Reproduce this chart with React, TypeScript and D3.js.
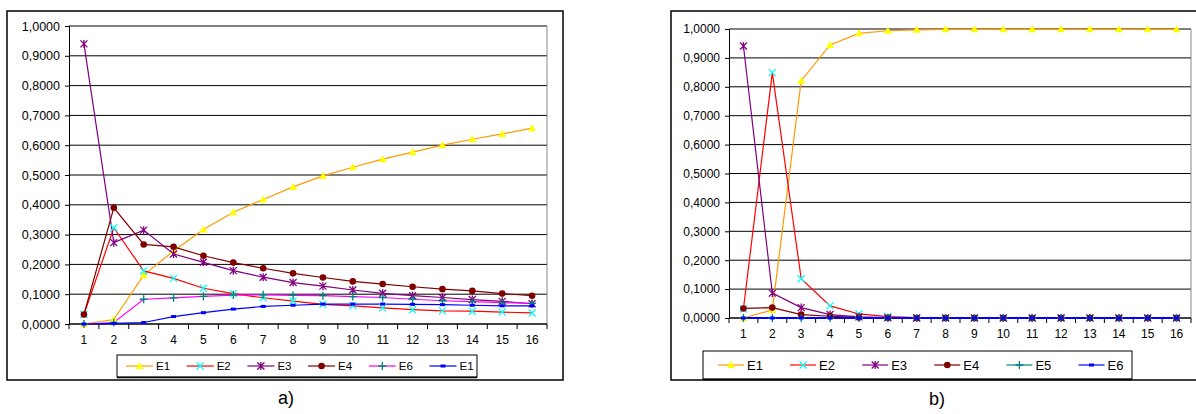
import React, { useEffect, useRef } from "react";
import * as d3 from "d3";

// x categories and y ticks shared by both panels
const categories = ["1", "2", "3", "4", "5", "6", "7", "8", "9", "10", "11", "12", "13", "14", "15", "16"];
const yTicks = [0, 0.1, 0.2, 0.3, 0.4, 0.5, 0.6, 0.7, 0.8, 0.9, 1.0];

// panel a)
const aE1 = [0.0, 0.015, 0.164, 0.245, 0.317, 0.375, 0.418, 0.460, 0.497, 0.526, 0.553, 0.577, 0.600, 0.620, 0.638, 0.657];
const aE2 = [0.032, 0.323, 0.178, 0.153, 0.120, 0.102, 0.088, 0.077, 0.066, 0.061, 0.054, 0.048, 0.044, 0.043, 0.040, 0.037];
const aE3 = [0.940, 0.273, 0.315, 0.235, 0.207, 0.179, 0.157, 0.139, 0.127, 0.114, 0.103, 0.095, 0.089, 0.082, 0.076, 0.068];
const aE4 = [0.032, 0.390, 0.267, 0.259, 0.229, 0.206, 0.187, 0.170, 0.156, 0.143, 0.134, 0.125, 0.117, 0.111, 0.102, 0.095];
const aE6 = [0.0, 0.005, 0.083, 0.088, 0.093, 0.097, 0.098, 0.096, 0.095, 0.092, 0.089, 0.083, 0.078, 0.075, 0.072, 0.069];
const aE1b = [0.0, 0.002, 0.005, 0.025, 0.038, 0.050, 0.059, 0.063, 0.067, 0.067, 0.067, 0.066, 0.065, 0.063, 0.061, 0.061];

// panel b)
const bE1 = [0.0, 0.028, 0.821, 0.945, 0.985, 0.994, 0.997, 0.999, 0.999, 0.999, 0.999, 0.999, 0.999, 0.999, 0.999, 0.999];
const bE2 = [0.032, 0.849, 0.136, 0.042, 0.014, 0.005, 0.001, 0.0, 0.0, 0.0, 0.0, 0.0, 0.0, 0.0, 0.0, 0.0];
const bE3 = [0.941, 0.086, 0.036, 0.012, 0.004, 0.001, 0.0, 0.0, 0.0, 0.0, 0.0, 0.0, 0.0, 0.0, 0.0, 0.0];
const bE4 = [0.033, 0.036, 0.012, 0.006, 0.002, 0.001, 0.0, 0.0, 0.0, 0.0, 0.0, 0.0, 0.0, 0.0, 0.0, 0.0];
const bE5 = [0.0, 0.0, 0.0, 0.0, 0.0, 0.0, 0.0, 0.0, 0.0, 0.0, 0.0, 0.0, 0.0, 0.0, 0.0, 0.0];
const bE6 = [0.0, 0.0, 0.0, 0.0, 0.0, 0.0, 0.0, 0.0, 0.0, 0.0, 0.0, 0.0, 0.0, 0.0, 0.0, 0.0];

const FONT = "Arial, 'Liberation Sans', sans-serif";

type Series = { name: string; values: number[]; line: string; marker: string; mfill: string };

const seriesA: Series[] = [
  { name: "E1", values: aE1, line: "#ff9900", marker: "triangle", mfill: "#ffff00" },
  { name: "E2", values: aE2, line: "#ff0000", marker: "x", mfill: "#00ffff" },
  { name: "E3", values: aE3, line: "#800080", marker: "star", mfill: "#800080" },
  { name: "E4", values: aE4, line: "#800000", marker: "circle", mfill: "#800000" },
  { name: "E6", values: aE6, line: "#ff00ff", marker: "plus", mfill: "#008080" },
  { name: "E1", values: aE1b, line: "#0000ff", marker: "dash", mfill: "#0000ff" },
];

const seriesB: Series[] = [
  { name: "E1", values: bE1, line: "#ff9900", marker: "triangle", mfill: "#ffff00" },
  { name: "E2", values: bE2, line: "#ff0000", marker: "x", mfill: "#00ffff" },
  { name: "E3", values: bE3, line: "#800080", marker: "star", mfill: "#800080" },
  { name: "E4", values: bE4, line: "#800000", marker: "circle", mfill: "#800000" },
  { name: "E5", values: bE5, line: "#008080", marker: "plus", mfill: "#008080" },
  { name: "E6", values: bE6, line: "#0000ff", marker: "dash", mfill: "#0000ff" },
];

function drawMarker(g: any, type: string, color: string, x: number, y: number) {
  if (type === "triangle") {
    g.append("path").attr("d", `M${x},${y - 4}L${x + 4},${y + 3}L${x - 4},${y + 3}Z`).attr("fill", color);
  } else if (type === "x") {
    g.append("path").attr("d", `M${x - 3.5},${y - 3.5}L${x + 3.5},${y + 3.5}M${x - 3.5},${y + 3.5}L${x + 3.5},${y - 3.5}`)
      .attr("stroke", color).attr("stroke-width", 1.3);
  } else if (type === "star") {
    g.append("path").attr("d", `M${x - 3.5},${y - 3.5}L${x + 3.5},${y + 3.5}M${x - 3.5},${y + 3.5}L${x + 3.5},${y - 3.5}M${x},${y - 4}L${x},${y + 4}`)
      .attr("stroke", color).attr("stroke-width", 1.3);
  } else if (type === "circle") {
    g.append("circle").attr("cx", x).attr("cy", y).attr("r", 3.3).attr("fill", color);
  } else if (type === "plus") {
    g.append("path").attr("d", `M${x - 4},${y}L${x + 4},${y}M${x},${y - 4}L${x},${y + 4}`)
      .attr("stroke", color).attr("stroke-width", 1.3);
  } else if (type === "dash") {
    g.append("rect").attr("x", x - 2.5).attr("y", y - 1.5).attr("width", 5).attr("height", 3).attr("fill", color);
  }
}

const Panel = ({ cfg, series }: { cfg: any; series: Series[] }) => {
  const ref = useRef<SVGGElement>(null);

  useEffect(() => {
    const g = d3.select(ref.current);
    g.selectAll("*").remove();
    const { frame, plot, legend } = cfg;

    // outer frame
    g.append("rect").attr("x", frame.x).attr("y", frame.y).attr("width", frame.w).attr("height", frame.h)
      .attr("fill", "#fff").attr("stroke", "#000").attr("stroke-width", 1.5);

    const x = d3.scaleBand().domain(categories).range([plot.x0, plot.x1]);
    const y = d3.scaleLinear().domain([0, 1]).range([plot.y1, plot.y0]);
    const cx = (i: number) => (x(categories[i]) as number) + x.bandwidth() / 2;

    // gridlines
    g.append("g").selectAll("line").data(yTicks.slice(1)).enter().append("line")
      .attr("x1", plot.x0).attr("x2", plot.x1).attr("y1", (d) => y(d)).attr("y2", (d) => y(d))
      .attr("stroke", "#000").attr("stroke-width", 1);
    g.append("line").attr("x1", plot.x1).attr("x2", plot.x1).attr("y1", plot.y0).attr("y2", plot.y1)
      .attr("stroke", "#888").attr("stroke-width", 1);

    // y axis
    const fmt = d3.format(".4f");
    const yAxis = g.append("g").attr("transform", `translate(${plot.x0},0)`)
      .call(d3.axisLeft(y).tickValues(yTicks).tickSize(4).tickFormat((d: any) => fmt(d).replace(".", ",")));
    yAxis.select(".domain").attr("stroke", "#000");
    yAxis.selectAll("text").attr("font-family", FONT).attr("font-size", cfg.yFont).attr("fill", "#000").attr("x", -9);

    // x axis with ticks between categories
    const xAxis = g.append("g").attr("transform", `translate(0,${plot.y1})`);
    xAxis.append("line").attr("x1", plot.x0).attr("x2", plot.x1).attr("stroke", "#000").attr("stroke-width", 1.5);
    xAxis.selectAll(".tk").data(categories).enter().append("line")
      .attr("x1", (d) => x(d) as number).attr("x2", (d) => x(d) as number).attr("y1", 0).attr("y2", 5).attr("stroke", "#000");
    xAxis.append("line").attr("x1", plot.x1).attr("x2", plot.x1).attr("y1", 0).attr("y2", 5).attr("stroke", "#000");
    xAxis.selectAll("text").data(categories).enter().append("text")
      .attr("x", (d) => (x(d) as number) + x.bandwidth() / 2).attr("y", cfg.xLabelDy)
      .attr("text-anchor", "middle").attr("font-family", FONT).attr("font-size", cfg.xFont).text((d) => d);

    // series
    const line = d3.line<number>().x((_, i) => cx(i)).y((d) => y(d));
    series.forEach((s) => {
      g.append("path").datum(s.values).attr("d", line).attr("fill", "none")
        .attr("stroke", s.line).attr("stroke-width", s.marker === "dash" && cfg.thickBlue ? 2 : 1.2);
    });
    series.forEach((s) => {
      s.values.forEach((v, i) => drawMarker(g, s.marker, s.mfill, cx(i), y(v)));
    });

    // legend
    g.append("rect").attr("x", legend.x).attr("y", legend.y).attr("width", legend.w).attr("height", legend.h)
      .attr("fill", "#fff").attr("stroke", "#000").attr("stroke-width", 1);
    g.append("line").attr("x1", legend.x).attr("x2", legend.x + legend.w).attr("y1", legend.y + legend.h + 0.5)
      .attr("y2", legend.y + legend.h + 0.5).attr("stroke", "#000").attr("stroke-width", 1.5);
    const ly = legend.y + legend.h / 2;
    series.forEach((s, i) => {
      const lx = legend.first + i * legend.step;
      g.append("line").attr("x1", lx).attr("x2", lx + legend.len).attr("y1", ly).attr("y2", ly)
        .attr("stroke", s.line).attr("stroke-width", 1.2);
      drawMarker(g, s.marker, s.mfill, lx + legend.len / 2, ly);
      g.append("text").attr("x", lx + legend.len + 3).attr("y", ly).attr("dy", "0.36em")
        .attr("font-family", FONT).attr("font-size", legend.font).text(s.name);
    });

    // caption
    g.append("text").attr("x", cfg.caption.x).attr("y", cfg.caption.y).attr("text-anchor", "middle")
      .attr("font-family", FONT).attr("font-size", 18).text(cfg.caption.text);
  }, [cfg, series]);

  return <g ref={ref} />;
};

const cfgA = {
  frame: { x: 7, y: 11, w: 556, h: 369 },
  plot: { x0: 69, x1: 547, y0: 26, y1: 324 },
  yFont: 12.5,
  xFont: 12,
  xLabelDy: 20,
  legend: { x: 117, y: 355, w: 360, h: 22, first: 126, step: 60.7, len: 27, font: 11.5 },
  caption: { x: 286, y: 404, text: "a)" },
  thickBlue: false,
};

const cfgB = {
  frame: { x: 671, y: 11, w: 540, h: 369 },
  plot: { x0: 729, x1: 1191, y0: 29, y1: 318 },
  yFont: 12,
  xFont: 12,
  xLabelDy: 20,
  legend: { x: 703, y: 351, w: 429, h: 28, first: 718, step: 72.1, len: 26, font: 13 },
  caption: { x: 937, y: 405, text: "b)" },
  thickBlue: true,
};

export default function App() {
  return (
    <svg width={1196} height={414} style={{ position: "absolute", left: 0, top: 0, background: "#fff" }}>
      <rect width={1196} height={414} fill="#fff" />
      <Panel cfg={cfgA} series={seriesA} />
      <Panel cfg={cfgB} series={seriesB} />
    </svg>
  );
}
